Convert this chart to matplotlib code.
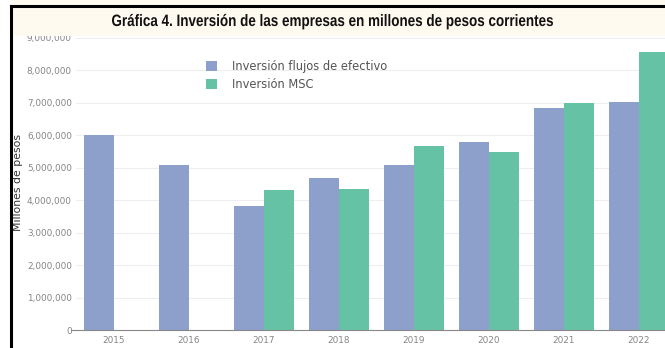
import matplotlib.pyplot as plt
from matplotlib.patches import Rectangle, PathPatch
from matplotlib.textpath import TextPath
from matplotlib.font_manager import FontProperties
from matplotlib.transforms import Affine2D
import numpy as np

# Data
years = ['2015', '2016', '2017', '2018', '2019', '2020', '2021', '2022']
flujos = [6000000, 5100000, 3830000, 4670000, 5100000, 5800000, 6850000, 7020000]
msc = [np.nan, np.nan, 4300000, 4350000, 5670000, 5500000, 7000000, 8580000]

blue = '#8DA0CB'
green = '#66C2A5'
tick_color = '#858585'

W, H = 665, 348
fig = plt.figure(figsize=(W / 100, H / 100), dpi=100)
fig.patch.set_facecolor('white')

# cream title band and black frame lines
fig.patches.append(Rectangle((12 / W, 312 / H), 1, 36 / H, transform=fig.transFigure,
                             facecolor='#FFFAF0', edgecolor='none', zorder=0))
fig.add_artist(plt.Line2D([11 / W, 1], [342 / H, 342 / H], transform=fig.transFigure,
                          color='black', lw=2.2))
fig.add_artist(plt.Line2D([11 / W, 11 / W], [0, 342 / H], transform=fig.transFigure,
                          color='black', lw=2.2))

# condensed bold title (narrow font not installed -> squeeze a text path)
title = 'Gráfica 4. Inversión de las empresas en millones de pesos corrientes'
tp = TextPath((0, 0), title, size=16.5, prop=FontProperties(family='Liberation Sans', weight='bold'))
bb = tp.get_extents()
sx = 441 / bb.width
tr = Affine2D().translate(-bb.x0, 0).scale(sx, 1.0).translate(112, H - 26)
fig.add_artist(PathPatch(tr.transform_path(tp), facecolor='#111111', edgecolor='none',
                         transform=None))

ax = fig.add_axes([76 / W, 18 / H, 600 / W, 292 / H])
ax.set_facecolor('none')

x = np.arange(len(years))
w = 0.4
ax.bar(x - w / 2, flujos, width=w, color=blue, label='Inversión flujos de efectivo', zorder=2)
ax.bar(x + w / 2, msc, width=w, color=green, label='Inversión MSC', zorder=2)

ax.set_xlim(-0.5, len(years) - 0.5)
ax.set_ylim(0, 9000000)
ax.set_yticks(np.arange(0, 9000001, 1000000))
ax.set_yticklabels(['0'] + [f'{v:,}' for v in range(1000000, 9000001, 1000000)])
ax.set_xticks(x)
ax.set_xticklabels(years)
ax.tick_params(axis='both', labelsize=6.4, colors=tick_color, length=0)
ax.tick_params(axis='y', pad=3)
ax.tick_params(axis='x', pad=4)
ax.grid(axis='y', color='#eeeeee', lw=0.8, zorder=0)
for s in ['top', 'right', 'left']:
    ax.spines[s].set_visible(False)
ax.spines['bottom'].set_color('#888888')
ax.spines['bottom'].set_linewidth(0.8)
ax.plot([-0.57, -0.5], [0, 0], color='#888888', lw=0.8, clip_on=False)

ax.set_ylabel('Millones de pesos', fontsize=7.8, color='#333333')
ax.yaxis.set_label_coords(-0.088, 0.505)

ax.legend(loc='upper left', bbox_to_anchor=(0.2, 0.96), frameon=False,
          fontsize=8.3, labelcolor='#555555', handlelength=0.95, handleheight=0.95,
          handletextpad=1.3, labelspacing=0.45)

fig.savefig('out.png', dpi=100)
